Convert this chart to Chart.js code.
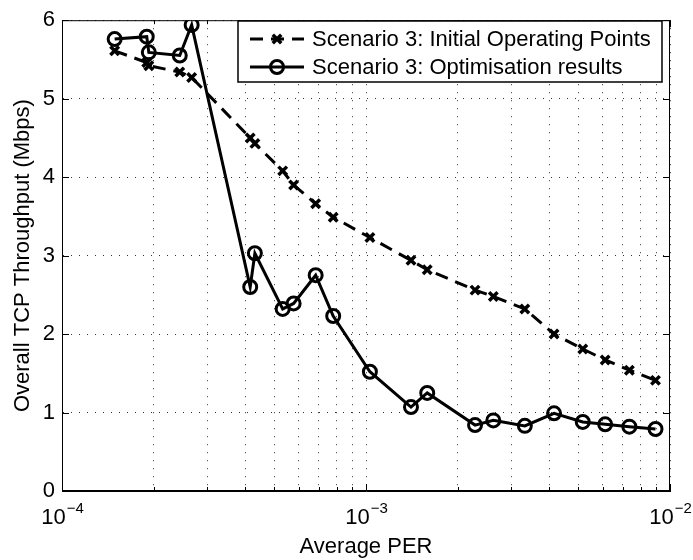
<!DOCTYPE html>
<html>
<head>
<meta charset="utf-8">
<title>Throughput vs PER</title>
<script src="https://cdn.jsdelivr.net/npm/chart.js@4.4.1/dist/chart.umd.min.js"></script>
<style>
  body { margin: 0; background: #fff; }
  #wrap { width: 693px; height: 560px; }
</style>
</head>
<body>
<div id="wrap"><canvas id="perChart" width="693" height="560"></canvas></div>
<script>
// average PER of each operating point (same points for both runs)
const avgPER = [1.49e-4, 1.90e-4, 1.93e-4, 2.44e-4, 2.67e-4, 4.16e-4, 4.31e-4, 5.32e-4, 5.78e-4, 6.83e-4, 7.80e-4,
                1.03e-3, 1.406e-3, 1.59e-3, 2.284e-3, 2.623e-3, 3.33e-3, 4.155e-3, 5.165e-3, 6.12e-3, 7.35e-3, 8.96e-3];
// overall TCP throughput, Mbps
const initialTput = [5.61, 5.46, 5.42, 5.34, 5.27, 4.50, 4.43, 4.08, 3.90, 3.66, 3.49,
                     3.23, 2.94, 2.82, 2.56, 2.48, 2.32, 2.00, 1.81, 1.67, 1.54, 1.41];
const optimisedTput = [5.76, 5.79, 5.59, 5.55, 5.94, 2.60, 3.03, 2.32, 2.39, 2.75, 2.23,
                       1.52, 1.07, 1.25, 0.84, 0.90, 0.83, 0.99, 0.88, 0.85, 0.82, 0.79];
const seriesNames = ['Scenario 3: Initial Operating Points', 'Scenario 3: Optimisation results'];
const decadeExps = [-4, -3, -2];
const yTickVals = [0, 1, 2, 3, 4, 5, 6];

const FONT = '"Liberation Sans", Arial, Helvetica, sans-serif';
const FS = 22;

// 1..9 x 10^e inside each decade, plus the last decade
const xTickVals = [];
decadeExps.forEach((e, i) => {
    if (i === decadeExps.length - 1) { xTickVals.push(Math.pow(10, e)); return; }
    for (let m = 1; m <= 9; m++) xTickVals.push(m * Math.pow(10, e));
});
const isDecade = v => decadeExps.some(e => Math.abs(v - Math.pow(10, e)) < 1e-12);

const toXY = ys => ys.map((y, i) => ({ x: avgPER[i], y: y }));

// box, inward ticks, 10^n labels and the boxed legend
const matlabAxes = {
    id: 'matlabAxes',
    afterDraw(chart) {
        const ctx = chart.ctx;
        const a = chart.chartArea;
        const xs = chart.scales.x, ys = chart.scales.y;
        ctx.save();
        ctx.strokeStyle = '#000';
        ctx.lineWidth = 1;
        ctx.setLineDash([]);
        ctx.strokeRect(a.left + 0.5, a.top + 0.5, a.right - a.left - 1, a.bottom - a.top - 1);

        ctx.beginPath();
        yTickVals.forEach(v => {
            const y = Math.round(ys.getPixelForValue(v)) + 0.5;
            ctx.moveTo(a.left, y); ctx.lineTo(a.left + 7, y);
            ctx.moveTo(a.right, y); ctx.lineTo(a.right - 7, y);
        });
        xTickVals.forEach(v => {
            const x = Math.round(xs.getPixelForValue(v)) + 0.5;
            const len = isDecade(v) ? 7 : 4;
            ctx.moveTo(x, a.bottom); ctx.lineTo(x, a.bottom - len);
            ctx.moveTo(x, a.top); ctx.lineTo(x, a.top + len);
        });
        ctx.stroke();

        // decade labels with superscript exponent
        ctx.fillStyle = '#000';
        ctx.textBaseline = 'alphabetic';
        ctx.textAlign = 'left';
        decadeExps.forEach(e => {
            const x = xs.getPixelForValue(Math.pow(10, e));
            const base = '10', sup = '\u2212' + Math.abs(e);
            ctx.font = FS + 'px ' + FONT;
            const wb = ctx.measureText(base).width;
            ctx.font = '15px ' + FONT;
            const wsup = ctx.measureText(sup).width;
            const x0 = x - (wb + wsup) / 2;
            ctx.font = FS + 'px ' + FONT;
            ctx.fillText(base, x0, a.bottom + 33);
            ctx.font = '15px ' + FONT;
            ctx.fillText(sup, x0 + wb + 1, a.bottom + 22);
        });

        // legend
        const box = { l: 238, t: 21, r: 662, b: 82 };
        ctx.fillStyle = '#fff';
        ctx.fillRect(box.l, box.t, box.r - box.l, box.b - box.t);
        ctx.lineWidth = 1.5;
        ctx.strokeRect(box.l, box.t, box.r - box.l, box.b - box.t);
        chart.data.datasets.forEach((ds, i) => {
            const y = 39 + i * 28;
            ctx.lineWidth = ds.borderWidth;
            ctx.strokeStyle = ds.borderColor;
            ctx.setLineDash(ds.borderDash || []);
            ctx.beginPath();
            ctx.moveTo(250, y); ctx.lineTo(304, y);
            ctx.stroke();
            ctx.setLineDash([]);
            ctx.lineWidth = ds.pointBorderWidth;
            ctx.fillStyle = ds.pointBackgroundColor;
            Chart.helpers.drawPoint(ctx, {
                pointStyle: ds.pointStyle, radius: ds.pointRadius,
                borderWidth: ds.pointBorderWidth, rotation: 0
            }, 277, y);
            ctx.fillStyle = '#000';
            ctx.font = FS + 'px ' + FONT;
            ctx.textBaseline = 'middle';
            ctx.fillText(ds.label, 312, y + 1);
        });
        ctx.restore();
    }
};

new Chart(document.getElementById('perChart'), {
    type: 'line',
    data: {
        datasets: [{
            label: seriesNames[0],
            data: toXY(initialTput),
            borderColor: '#000',
            borderWidth: 3,
            borderDash: [13, 8],
            pointStyle: 'crossRot',
            pointRadius: 6,
            pointBorderWidth: 3.5,
            pointBackgroundColor: '#000',
            pointBorderColor: '#000',
            tension: 0
        }, {
            label: seriesNames[1],
            data: toXY(optimisedTput),
            borderColor: '#000',
            borderWidth: 3,
            pointStyle: 'circle',
            pointRadius: 6.5,
            pointBorderWidth: 3,
            pointBackgroundColor: 'rgba(0,0,0,0)',
            pointBorderColor: '#000',
            tension: 0
        }]
    },
    options: {
        responsive: false,
        animation: false,
        events: [],
        layout: { padding: { left: 0, right: 23, top: 12, bottom: 0 } },
        plugins: { legend: { display: false }, tooltip: { enabled: false } },
        scales: {
            x: {
                type: 'logarithmic',
                min: 1e-4,
                max: 1e-2,
                afterBuildTicks: s => { s.ticks = xTickVals.map(v => ({ value: v, major: isDecade(v) })); },
                afterFit: s => { s.height = 69; },
                ticks: { display: false },
                grid: { color: '#333', lineWidth: 1, drawTicks: false },
                border: { color: '#000', width: 1, dash: [1, 7] },
                title: {
                    display: true, text: 'Average PER', color: '#000',
                    font: { family: FONT, size: FS }, padding: { top: 4, bottom: 0 }
                }
            },
            y: {
                min: 0,
                max: 6,
                afterBuildTicks: s => { s.ticks = yTickVals.map(v => ({ value: v })); },
                afterFit: s => { s.width = 62; },
                ticks: { color: '#000', font: { family: FONT, size: FS }, padding: 7 },
                grid: { color: '#333', lineWidth: 1, drawTicks: false },
                border: { color: '#000', width: 1, dash: [1, 7] },
                title: {
                    display: true, text: 'Overall TCP Throughput (Mbps)', color: '#000',
                    font: { family: FONT, size: FS }, padding: { top: 10, bottom: 0 }
                }
            }
        }
    },
    plugins: [matlabAxes]
});
</script>
</body>
</html>
